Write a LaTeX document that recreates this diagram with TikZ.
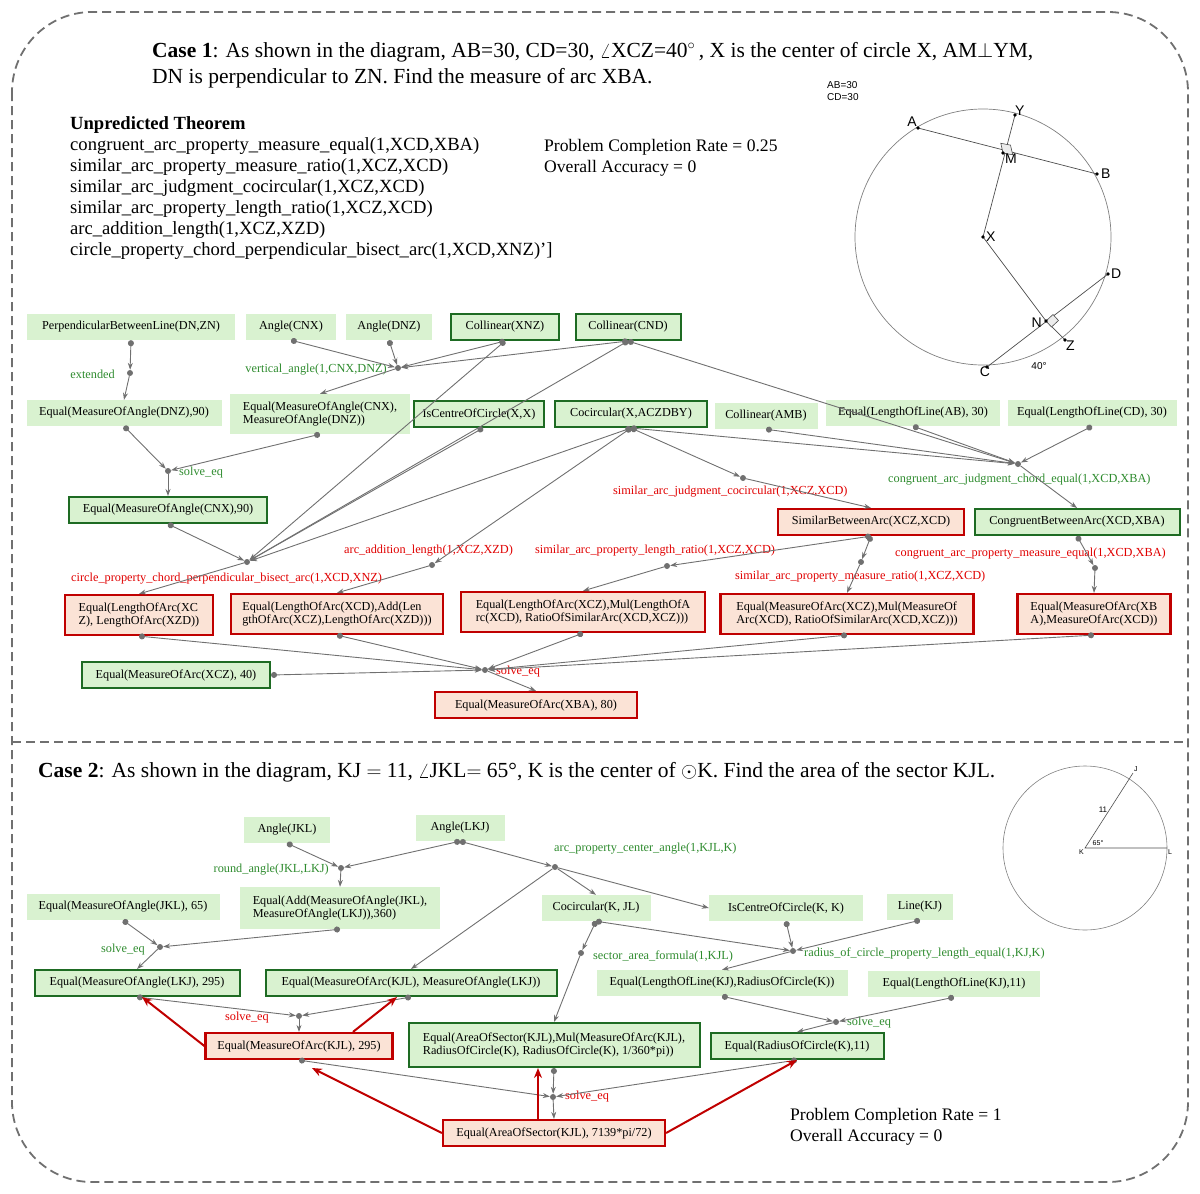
\documentclass[tikz,border=0pt]{standalone}
\usepackage{fontspec}
\setmainfont{Liberation Serif}
\newfontfamily\sansf{Liberation Sans}
\usetikzlibrary{arrows.meta}
\definecolor{lg}{HTML}{D9F2D0}
\definecolor{gb}{HTML}{1E6B23}
\definecolor{rb}{HTML}{C00000}
\definecolor{rf}{HTML}{FBE3D6}
\definecolor{gt}{HTML}{2E8B2E}
\definecolor{rt}{HTML}{E00000}
\definecolor{eg}{HTML}{707070}
\tikzset{
 base/.style={font=\fontsize{12.2}{13.5}\selectfont, inner sep=4pt, align=left, minimum height=26pt},
 lt/.style={base, fill=lg},
 gn/.style={base, fill=lg, draw=gb, line width=2pt},
 rd/.style={base, fill=rf, draw=rb, line width=2.2pt},
 e/.style={draw=eg, line width=0.9pt, {Circle[length=6pt]}-{Stealth[length=7pt,width=5pt]}},
 e2/.style={draw=eg, line width=0.9pt, -{Stealth[length=7pt,width=5pt]}},
 ra/.style={draw=rb, line width=2pt, -{Stealth[length=10pt,width=8pt]}},
 jn/.style={circle, fill=eg, inner sep=0pt, minimum size=6pt},
 gl/.style={font=\fontsize{12.3}{13}\selectfont, text=gt, inner sep=1pt},
 rl/.style={font=\fontsize{12.3}{13}\selectfont, text=rt, inner sep=1pt},
 big/.style={font=\fontsize{21.5}{24}\selectfont, anchor=west, inner sep=0pt},
 mid/.style={font=\fontsize{18.6}{21}\selectfont, anchor=west, inner sep=0pt},
 pcs/.style={font=\fontsize{17.6}{21}\selectfont, anchor=west, inner sep=0pt},
 geo/.style={font=\sansf\fontsize{14}{16}\selectfont, inner sep=1pt},
}
\begin{document}
\begin{tikzpicture}[x=1pt,y=-1pt]
\useasboundingbox (0,0) rectangle (1200,1194);
% frame
\draw[eg, line width=1.8pt, dash pattern=on 9pt off 5pt, rounded corners=80pt] (12,12) rectangle (1188,1182);
\draw[eg, line width=1.8pt, dash pattern=on 9pt off 5pt] (12,742) -- (1188,742);

% ===== Case 1 text
\node[big] (t1a) at (152,52) {\textbf{Case 1}: As shown in the diagram, AB=30, CD=30, $\angle$XCZ=40$^\circ$\,, X is the center of circle X, AM$\perp$YM,};
\node[big] (t1b) at (152,78) {DN is perpendicular to ZN. Find the measure of arc XBA.};
\node[mid, anchor=north west, align=left] (thm) at (70,116) {\textbf{Unpredicted Theorem}\\[0pt]
congruent\_arc\_property\_measure\_equal(1,XCD,XBA)\\[0pt]
similar\_arc\_property\_measure\_ratio(1,XCZ,XCD)\\[0pt]
similar\_arc\_judgment\_cocircular(1,XCZ,XCD)\\[0pt]
similar\_arc\_property\_length\_ratio(1,XCZ,XCD)\\[0pt]
arc\_addition\_length(1,XCZ,XZD)\\[0pt]
circle\_property\_chord\_perpendicular\_bisect\_arc(1,XCD,XNZ)']};
\node[pcs, anchor=north west, align=left] (pc1) at (544,139) {Problem Completion Rate = 0.25\\[0pt]Overall Accuracy = 0};

% geometry case 1
\draw[gray, line width=0.7pt] (983,237) circle (128);
\coordinate (A) at (918,128); \coordinate (Y) at (1015,115); \coordinate (B) at (1097,174);
\coordinate (D) at (1108,274); \coordinate (Z) at (1065,340); \coordinate (N) at (1046,321);
\coordinate (C) at (987,367); \coordinate (M) at (1003,153); \coordinate (X) at (983,237);
\draw[gray!60!black, line width=0.7pt] (A) -- (B) (Y) -- (X) -- (N) -- (Z) (C) -- (D);
\draw[gray!60!black, line width=0.6pt, fill=gray!15] (M) -- ++(-2.2,-9.7) -- ++(9.7,1.8) -- ++(2.2,9.7) -- cycle;
\draw[gray!60!black, line width=0.6pt, fill=gray!15] (N) -- ++(7,-6.5) -- ++(5.5,6) -- ++(-7,6.5) -- cycle;
\foreach \p in {A,Y,B,D,Z,N,C,M,X} \fill (\p) circle (1.8);
\node[geo, anchor=south east] (lA) at (A) {A};
\node[geo, anchor=south west] (lY) at ([xshift=-1,yshift=-2]Y) {Y};
\node[geo, anchor=west] (lB) at ([xshift=3]B) {B};
\node[geo, anchor=west] (lD) at ([xshift=2]D) {D};
\node[geo, anchor=north west] (lZ) at (Z) {Z};
\node[geo, anchor=east] (lN) at ([xshift=-3,yshift=-2]N) {N};
\node[geo, anchor=north] (lC) at ([xshift=-2,yshift=1]C) {C};
\node[geo, anchor=north west] (lM) at ([xshift=1]M) {M};
\node[geo, anchor=west] (lX) at ([xshift=2]X) {X};
\node[geo, font=\sansf\fontsize{10}{11}\selectfont] (a40) at (1039,366) {40°};
\node[geo, font=\sansf\fontsize{10}{12}\selectfont, anchor=north west, align=left] (abcd) at (826,80) {AB=30\\CD=30};

% ===== Case 1 graph
\node[lt, minimum width=208pt] (pbl) at (131,327) {PerpendicularBetweenLine(DN,ZN)};
\node[lt, minimum width=90pt] (acnx) at (291,327) {Angle(CNX)};
\node[lt, minimum width=86pt] (adnz) at (389,327) {Angle(DNZ)};
\node[gn, minimum width=108pt] (cxnz) at (505,327) {Collinear(XNZ)};
\node[gn, minimum width=105pt] (ccnd) at (628,327) {Collinear(CND)};

\node[lt, minimum width=195pt] (dnz90) at (124,413) {Equal(MeasureOfAngle(DNZ),90)};
\node[lt, minimum width=180pt, minimum height=40pt] (eqcd) at (320,414) {Equal(MeasureOfAngle(CNX),\\MeasureOfAngle(DNZ))};
\node[gn, minimum width=130pt] (isc) at (479,414) {IsCentreOfCircle(X,X)};
\node[gn, minimum width=152pt] (coc) at (631,414) {Cocircular(X,ACZDBY)};
\node[lt, minimum width=103pt] (camb) at (766,416) {Collinear(AMB)};
\node[lt, minimum width=174pt] (lab) at (913,413) {Equal(LengthOfLine(AB), 30)};
\node[lt, minimum width=169pt] (lcd) at (1092,413) {Equal(LengthOfLine(CD), 30)};

\node[gn, minimum width=198pt] (cnx90) at (168,510) {Equal(MeasureOfAngle(CNX),90)};
\node[rd, minimum width=186pt] (sim) at (871,522) {SimilarBetweenArc(XCZ,XCD)};
\node[gn, minimum width=205pt] (cong) at (1077,522) {CongruentBetweenArc(XCD,XBA)};

\node[rd, minimum width=148pt, minimum height=40pt] (r1) at (139,615) {Equal(LengthOfArc(XC\\Z), LengthOfArc(XZD))};
\node[rd, minimum width=212pt, minimum height=40pt] (r2) at (337,614) {Equal(LengthOfArc(XCD),Add(Len\\gthOfArc(XCZ),LengthOfArc(XZD)))};
\node[rd, minimum width=244pt, minimum height=40pt] (r3) at (583,612) {Equal(LengthOfArc(XCZ),Mul(LengthOfA\\rc(XCD), RatioOfSimilarArc(XCD,XCZ)))};
\node[rd, minimum width=253pt, minimum height=40pt] (r4) at (847,614) {Equal(MeasureOfArc(XCZ),Mul(MeasureOf\\Arc(XCD), RatioOfSimilarArc(XCD,XCZ)))};
\node[rd, minimum width=153pt, minimum height=40pt] (r5) at (1094,614) {Equal(MeasureOfArc(XB\\A),MeasureOfArc(XCD))};
\node[gn, minimum width=188pt] (xcz40) at (176,675) {Equal(MeasureOfArc(XCZ), 40)};
\node[rd, minimum width=202pt] (xba80) at (536,705) {Equal(MeasureOfArc(XBA), 80)};

% junctions case 1
\node[jn] (j1) at (130,373) {}; \node[gl, anchor=east] (l1) at (116,374) {extended};
\node[jn] (j2) at (398,368) {}; \node[gl, anchor=east] (l2) at (388,370) {vertical\_angle(1,CNX,DNZ)};
\node[jn] (j3) at (168,471) {}; \node[gl, anchor=west] (l3) at (178,473) {solve\_eq};
\node[jn] (j4) at (247,562) {}; \node[rl, anchor=west] (l4) at (70,579) {circle\_property\_chord\_perpendicular\_bisect\_arc(1,XCD,XNZ)};
\node[jn] (j5) at (432,565) {}; \node[rl, anchor=west] (l5) at (343,551) {arc\_addition\_length(1,XCZ,XZD)};
\node[jn] (j6) at (743,478) {}; \node[rl, anchor=west] (l6) at (612,492) {similar\_arc\_judgment\_cocircular(1,XCZ,XCD)};
\node[jn] (j7) at (1018,464) {}; \node[gl, anchor=west] (l7) at (887,480) {congruent\_arc\_judgment\_chord\_equal(1,XCD,XBA)};
\node[jn] (j8) at (667,566) {}; \node[rl, anchor=west] (l8) at (534,551) {similar\_arc\_property\_length\_ratio(1,XCZ,XCD)};
\node[jn] (j9) at (861,562) {}; \node[rl, anchor=west] (l9) at (734,577) {similar\_arc\_property\_measure\_ratio(1,XCZ,XCD)};
\node[jn] (j10) at (1095,568) {}; \node[rl, anchor=west] (l10) at (894,554) {congruent\_arc\_property\_measure\_equal(1,XCD,XBA)};
\node[jn] (j11) at (485,670) {}; \node[rl, anchor=west] (l11) at (495,672) {solve\_eq};

\draw[e] (pbl.south) -- (j1); \draw[e2] (j1) -- (dnz90.north);
\draw[e] (acnx.south) -- (j2); \draw[e] (adnz.south) -- (j2); \draw[e] (cxnz.south) -- (j2); \draw[e] (ccnd.south) -- (j2);
\draw[e2] (j2) -- (eqcd.north);
\draw[e] (dnz90.south) -- (j3); \draw[e] (eqcd.south) -- (j3); \draw[e2] (j3) -- (cnx90.north);
\draw[e] (cnx90.south) -- (j4); \draw[e] (cxnz.south) -- (j4); \draw[e] (ccnd.south) -- (j4);
\draw[e] ([xshift=4]isc.south) -- (j4); \draw[e] (coc.south) -- (j4);
\draw[e2] (j4) -- (r1.north);
\draw[e] (coc.south) -- (j5); \draw[e2] (j5) -- (r2.north);
\draw[e] (coc.south) -- (j6); \draw[e2] (j6) -- (sim.north);
\draw[e] (coc.south) -- (j7); \draw[e] (ccnd.south) -- (j7); \draw[e] (camb.south) -- (j7);
\draw[e] (lab.south) -- (j7); \draw[e] (lcd.south) -- (j7); \draw[e2] (j7) -- (cong.north);
\draw[e] (sim.south) -- (j8); \draw[e2] (j8) -- (r3.north);
\draw[e] (sim.south) -- (j9); \draw[e2] (j9) -- (r4.north);
\draw[e] (cong.south) -- (j10); \draw[e2] (j10) -- (r5.north);
\foreach \n in {r1,r2,r3,r4,r5} \draw[e] (\n.south) -- (j11);
\draw[e] (xcz40.east) -- (j11);
\draw[e2] (j11) -- (xba80.north);

% ===== Case 2 text
\node[big] (t2) at (38,772) {\textbf{Case 2}: As shown in the diagram, KJ $=$ 11, $\angle$JKL$=$ 65°, K is the center of $\odot$K. Find the area of the sector KJL.};
\node[pcs, anchor=north west, align=left] (pc2) at (790,1108) {Problem Completion Rate = 1\\[0pt]Overall Accuracy = 0};

% geometry case 2
\coordinate (K) at (1085,848); \coordinate (J) at (1133,773); \coordinate (L) at (1167,848);
\draw[gray, line width=0.6pt] (K) circle (82);
\draw[gray!60!black, line width=0.6pt] (J) -- (K) -- (L);
\node[geo, font=\sansf\fontsize{7}{8}\selectfont, anchor=north east] (lK) at (K) {K};
\node[geo, font=\sansf\fontsize{7}{8}\selectfont, anchor=south west] (lJ) at (J) {J};
\node[geo, font=\sansf\fontsize{7}{8}\selectfont, anchor=north west] (lL) at (L) {L};
\node[geo, font=\sansf\fontsize{8}{9}\selectfont] (l11n) at (1103,810) {11};
\node[geo, font=\sansf\fontsize{7}{8}\selectfont] (l65) at (1098,843) {65°};

% ===== Case 2 graph
\node[lt, minimum width=86pt] (ajkl) at (287,830) {Angle(JKL)};
\node[lt, minimum width=89pt] (alkj) at (460,828) {Angle(LKJ)};
\node[lt, minimum width=193pt] (jkl65) at (123,907) {Equal(MeasureOfAngle(JKL), 65)};
\node[lt, minimum width=200pt, minimum height=42pt] (add) at (340,908) {Equal(Add(MeasureOfAngle(JKL),\\MeasureOfAngle(LKJ)),360)};
\node[lt, minimum width=109pt] (coc2) at (596,908) {Cocircular(K, JL)};
\node[lt, minimum width=154pt] (isc2) at (786,908) {IsCentreOfCircle(K, K)};
\node[lt, minimum width=66pt] (lkj) at (920,907) {Line(KJ)};
\node[gn, minimum width=205pt] (lkj295) at (137,983) {Equal(MeasureOfAngle(LKJ), 295)};
\node[gn, minimum width=291pt] (arcang) at (411,983) {Equal(MeasureOfArc(KJL), MeasureOfAngle(LKJ))};
\node[lt, minimum width=251pt] (lr) at (722,983) {Equal(LengthOfLine(KJ),RadiusOfCircle(K))};
\node[lt, minimum width=172pt] (l11) at (954,984) {Equal(LengthOfLine(KJ),11)};
\node[rd, minimum width=187pt] (arc295) at (299,1046) {Equal(MeasureOfArc(KJL), 295)};
\node[gn, minimum width=291pt, minimum height=44pt] (sec) at (554,1045) {Equal(AreaOfSector(KJL),Mul(MeasureOfArc(KJL),\\RadiusOfCircle(K), RadiusOfCircle(K), 1/360*pi))};
\node[gn, minimum width=173pt] (rad11) at (797,1046) {Equal(RadiusOfCircle(K),11)};
\node[rd, minimum width=222pt] (ans) at (554,1133) {Equal(AreaOfSector(KJL), 7139*pi/72)};

\node[jn] (k1) at (341,868) {}; \node[gl, anchor=east] (m1) at (330,870) {round\_angle(JKL,LKJ)};
\node[jn] (k2) at (555,867) {}; \node[gl, anchor=west] (m2) at (553,849) {arc\_property\_center\_angle(1,KJL,K)};
\node[jn] (k3) at (160,947) {}; \node[gl, anchor=east] (m3) at (146,950) {solve\_eq};
\node[jn] (k4) at (793,951) {}; \node[gl, anchor=west] (m4) at (803,953) {radius\_of\_circle\_property\_length\_equal(1,KJ,K)};
\node[jn] (k5) at (581,953) {}; \node[gl, anchor=west] (m5) at (592,956) {sector\_area\_formula(1,KJL)};
\node[jn] (k6) at (299,1016) {}; \node[rl, anchor=east] (m6) at (270,1018) {solve\_eq};
\node[jn] (k7) at (836,1022) {}; \node[gl, anchor=west] (m7) at (846,1023) {solve\_eq};
\node[jn] (k8) at (553,1097) {}; \node[rl, anchor=west] (m8) at (564,1097) {solve\_eq};

\draw[e] (ajkl.south) -- (k1); \draw[e] (alkj.south) -- (k1); \draw[e2] (k1) -- (add.north);
\draw[e] (alkj.south) -- (k2); \draw[e2] (k2) -- (arcang.north); \draw[e2] (k2) -- (coc2.north); \draw[e2] (k2) -- (isc2.west);
\draw[e] (jkl65.south) -- (k3); \draw[e] (add.south) -- (k3); \draw[e2] (k3) -- (lkj295.north);
\draw[e] (coc2.south) -- (k4); \draw[e] (isc2.south) -- (k4); \draw[e] (lkj.south) -- (k4); \draw[e2] (k4) -- (lr.north);
\draw[e] (coc2.south) -- (k5); \draw[e2] (k5) -- (sec.north);
\draw[e] (lkj295.south) -- (k6); \draw[e] (arcang.south) -- (k6); \draw[e2] (k6) -- (arc295.north);
\draw[e] (lr.south) -- (k7); \draw[e] (l11.south) -- (k7); \draw[e2] (k7) -- (rad11.north);
\draw[e] (arc295.south) -- (k8); \draw[e] (sec.south) -- (k8); \draw[e] (rad11.south) -- (k8); \draw[e2] (k8) -- (ans.north);

\draw[ra] (arc295.west) -- ([xshift=5]lkj295.south);
\draw[ra] ([xshift=54]arc295.north) -- ([xshift=-14]arcang.south);
\draw[ra] (ans.west) -- ([xshift=-242]sec.south);
\draw[ra] ([xshift=-16]ans.north) -- ([xshift=-16]sec.south);
\draw[ra] (ans.east) -- (rad11.south);
\end{tikzpicture}
\end{document}
